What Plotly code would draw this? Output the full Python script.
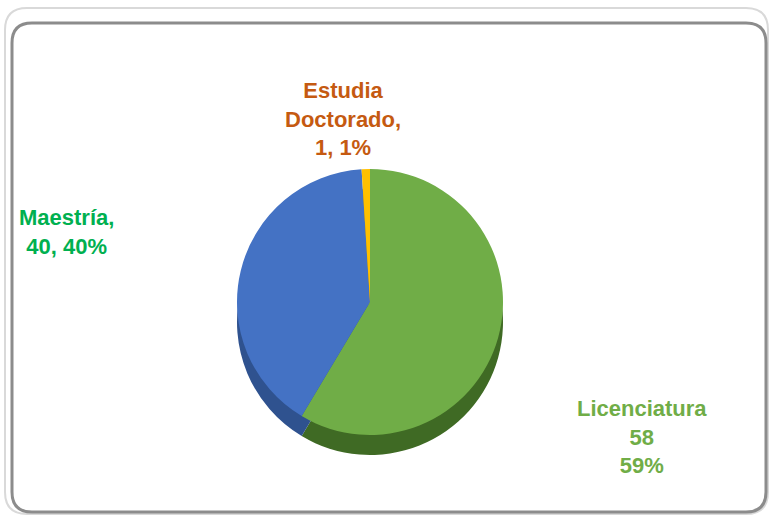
import plotly.graph_objects as go

labels = ["Licenciatura", "Maestría", "Estudia Doctorado"]
values = [58, 40, 1]
slice_colors = ["#70AD47", "#4472C4", "#FFC000"]
side_colors = ["#3F6A24", "#2F528F", "#BF9000"]
label_colors = ["#70AD47", "#00B050", "#C55A11"]

total = sum(values)
pcts = [round(v * 100 / total) for v in values]

W, H = 770, 516
cx, cy, r = 370, 302, 133
depth = 20

def dom(cx, cy, r):
    return dict(x=[(cx - r) / W, (cx + r) / W], y=[(H - cy - r) / H, (H - cy + r) / H])

fig = go.Figure()
# side (depth) layer
fig.add_trace(go.Pie(labels=labels, values=values, sort=False, direction="clockwise", rotation=0,
                     marker=dict(colors=side_colors, line=dict(width=0)), textinfo="none",
                     hoverinfo="skip", showlegend=False, domain=dom(cx, cy + depth, r)))
# top layer
fig.add_trace(go.Pie(labels=labels, values=values, sort=False, direction="clockwise", rotation=0,
                     marker=dict(colors=slice_colors, line=dict(width=0)), textinfo="none",
                     showlegend=False, domain=dom(cx, cy, r)))

label_texts = [
    f"{labels[0]}<br>{values[0]}<br>{pcts[0]}%",
    f"{labels[1]},<br>{values[1]}, {pcts[1]}%",
    "Estudia<br>Doctorado,<br>" + f"{values[2]}, {pcts[2]}%",
]
label_pos = [(642, 437), (66, 232), (343, 119)]
for t, (px, py), c in zip(label_texts, label_pos, label_colors):
    fig.add_annotation(x=px / W, y=(H - py) / H, xref="paper", yref="paper", text=t,
                       xanchor="center", yanchor="middle",
                       showarrow=False, align="center",
                       font=dict(family="Liberation Sans, Arial, sans-serif", size=22,
                                 color=c, weight="bold"))

def rrect(x0, y0, x1, y1, rad):
    rx, ry = rad / W, rad / H
    X0, X1 = x0 / W, x1 / W
    Y0, Y1 = (H - y1) / H, (H - y0) / H
    return (f"M {X0+rx} {Y1} L {X1-rx} {Y1} Q {X1} {Y1} {X1} {Y1-ry} L {X1} {Y0+ry} "
            f"Q {X1} {Y0} {X1-rx} {Y0} L {X0+rx} {Y0} Q {X0} {Y0} {X0} {Y0+ry} "
            f"L {X0} {Y1-ry} Q {X0} {Y1} {X0+rx} {Y1} Z")

fig.add_shape(type="path", path=rrect(5, 8, 768, 514, 22), xref="paper", yref="paper",
              line=dict(color="#D9D9D9", width=2), layer="below")
fig.add_shape(type="path", path=rrect(12, 23, 766, 512, 20), xref="paper", yref="paper",
              line=dict(color="#8C8C8C", width=3), layer="below")

fig.update_layout(width=W, height=H, margin=dict(l=0, r=0, t=0, b=0),
                  paper_bgcolor="white", plot_bgcolor="white", showlegend=False)
fig.write_html("out.html", config={"displayModeBar": False},
               post_script="document.body.style.margin='0';")
